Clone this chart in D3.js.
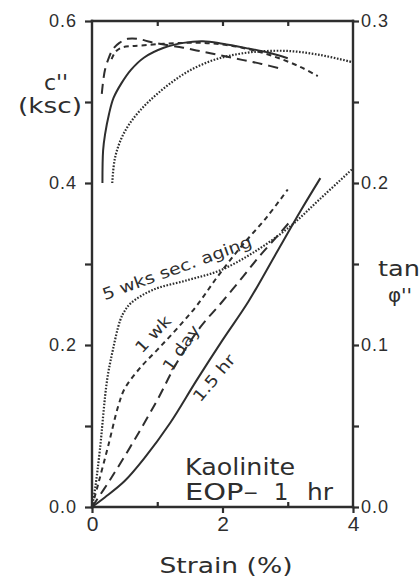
<!DOCTYPE html>
<html>
<head>
<meta charset="utf-8">
<script src="https://cdn.jsdelivr.net/npm/d3@7"></script>
<style>
  body { margin: 0; background: #fff; }
  svg { display: block; font-family: "DejaVu Sans", sans-serif; }
</style>
</head>
<body>
<script>
// plot box
var width = 420;
var height = 579;
var ink = "#2e2e2e";

// c'' curves, left axis : [strain %, c'' (ksc)]
var cHr   = [[.16,.40],[.17,.44],[.20,.46],[.26,.485],[.33,.505],[.45,.523],[.60,.540],[.80,.555],[1.1,.567],[1.4,.573],[1.7,.575],[2.0,.572],[2.4,.566],[2.7,.561],[3.0,.554]];
var cDay  = [[.15,.51],[.17,.525],[.20,.54],[.25,.553],[.32,.565],[.42,.573],[.55,.578],[.70,.578],[.90,.574],[1.1,.571],[1.4,.567],[1.7,.562],[2.0,.557],[2.3,.552],[2.6,.547],[2.9,.541]];
var cWk   = [[.30,.553],[.36,.562],[.45,.567],[.60,.569],[.80,.570],[1.1,.572],[1.4,.573],[1.7,.573],[2.0,.571],[2.3,.567],[2.6,.561],[2.9,.553],[3.2,.543],[3.46,.532]];
var cWks  = [[.31,.40],[.35,.43],[.45,.455],[.6,.476],[.8,.495],[1.0,.510],[1.25,.526],[1.5,.539],[1.8,.550],[2.1,.557],[2.5,.562],[3.0,.563],[3.5,.558],[4.0,.549]];

// tan phi'' curves, right axis : [strain %, tan phi'']
var tHr   = [[0,0],[.2,.006],[.5,.016],[.8,.030],[1.2,.052],[1.6,.078],[2.0,.103],[2.4,.127],[2.8,.155],[3.2,.183],[3.5,.203]];
var tDay  = [[0,0],[.28,.017],[.63,.040],[1.0,.066],[1.3,.089],[1.66,.111],[1.96,.125],[2.27,.140],[2.57,.155],[2.88,.169],[3.03,.176]];
var tWk   = [[0,0],[.1,.015],[.25,.038],[.4,.062],[.5,.073],[.74,.086],[1.0,.097],[1.3,.110],[1.6,.124],[1.92,.142],[2.27,.160],[2.68,.179],[3.0,.196]];
var tWks  = [[0,0],[.05,.012],[.12,.035],[.23,.078],[.32,.097],[.43,.115],[.5,.121],[.6,.126],[.93,.134],[1.46,.140],[1.96,.146],[2.47,.157],[3.03,.173],[3.49,.190],[4.0,.209]];

// ticks
var xMajor = [0, 2, 4];
var xMinor = [1, 3];
var xTop = [1, 2, 3];
var leftTicks = [0, .1, .2, .3, .4, .5, .6];
var rightTicks = [0, .05, .1, .15, .2, .25, .3];

var x = d3.scaleLinear().domain([0, 4]).range([92, 353]);
var yL = d3.scaleLinear().domain([0, 0.6]).range([507, 21]);
var yR = d3.scaleLinear().domain([0, 0.3]).range([507, 21]);

var svg = d3.select("body")
  .append("svg")
    .attr("width", width)
    .attr("height", height);

// curves
var lineL = d3.line()
  .x(function(d) { return x(d[0]); })
  .y(function(d) { return yL(d[1]); })
  .curve(d3.curveCatmullRom.alpha(0.5));

var lineR = d3.line()
  .x(function(d) { return x(d[0]); })
  .y(function(d) { return yR(d[1]); })
  .curve(d3.curveCatmullRom.alpha(0.5));

var dashes = { hr: null, day: "10,6", wk: "5,4", wks: "1.6,1.6" };

var curves = [
  { data: cHr, gen: lineL, dash: dashes.hr },
  { data: cDay, gen: lineL, dash: dashes.day },
  { data: cWk, gen: lineL, dash: dashes.wk },
  { data: cWks, gen: lineL, dash: dashes.wks },
  { data: tHr, gen: lineR, dash: dashes.hr },
  { data: tDay, gen: lineR, dash: dashes.day },
  { data: tWk, gen: lineR, dash: dashes.wk },
  { data: tWks, gen: lineR, dash: dashes.wks }
];

svg.selectAll(".curve")
  .data(curves)
  .enter()
  .append("path")
    .classed("curve", true)
    .attr("d", function(d) { return d.gen(d.data); })
    .attr("fill", "none")
    .attr("stroke", ink)
    .attr("stroke-width", function(d) { return d.dash === dashes.wks ? 2.2 : 2; })
    .attr("stroke-dasharray", function(d) { return d.dash; });

// axes (ticks + labels)
var styleAxis = function(g) {
  g.select(".domain").remove();
  g.selectAll(".tick line").attr("stroke", ink).attr("stroke-width", 2.2);
  g.selectAll(".tick text").attr("fill", ink);
};

svg.append("g")
  .attr("transform", "translate(92,0)")
  .call(d3.axisLeft(yL).tickValues(leftTicks).tickSizeInner(7).tickSizeOuter(0).tickPadding(8)
    .tickFormat(function(d) { return Math.round(d * 10) % 2 === 0 ? d3.format(".1f")(d) : ""; }))
  .call(styleAxis)
  .selectAll("text").style("font-size", "18px").style("letter-spacing", "1px");

svg.append("g")
  .attr("transform", "translate(353,0)")
  .call(d3.axisRight(yR).tickValues(rightTicks).tickSizeInner(6).tickSizeOuter(0).tickPadding(2)
    .tickFormat(function(d) { return Math.round(d * 20) % 2 === 0 ? d3.format(".1f")(d) : ""; }))
  .call(styleAxis)
  .selectAll("text").style("font-size", "18px").style("letter-spacing", "1px");

svg.append("g")
  .attr("transform", "translate(0,507)")
  .call(d3.axisBottom(x).tickValues(xMajor).tickSizeInner(6).tickSizeOuter(0).tickPadding(3).tickFormat(d3.format("d")))
  .call(styleAxis)
  .selectAll("text").style("font-size", "21px");

svg.append("g")
  .attr("transform", "translate(0,507)")
  .call(d3.axisBottom(x).tickValues(xMinor).tickSizeInner(-5).tickSizeOuter(0).tickFormat(""))
  .call(styleAxis);

svg.append("g")
  .attr("transform", "translate(0,21)")
  .call(d3.axisTop(x).tickValues(xTop).tickSizeInner(-5).tickSizeOuter(0).tickFormat(""))
  .call(styleAxis);

// text
var addText = function(str, px, py, size, opts) {
  opts = opts || {};
  var t = svg.append("text")
    .attr("x", px)
    .attr("y", py)
    .attr("fill", ink)
    .style("font-size", size + "px")
    .attr("text-anchor", opts.anchor || "start")
    .text(str);
  if (opts.len) t.attr("textLength", opts.len).attr("lengthAdjust", "spacingAndGlyphs");
  if (opts.rot) t.attr("transform", "rotate(" + opts.rot + "," + px + "," + py + ")").attr("dy", "0.35em");
  return t;
};

addText("c''", 56, 90, 22, { anchor: "middle" });
addText("(ksc)", 50, 113, 22, { anchor: "middle", len: 64 });
addText("tan", 378, 276, 21, { len: 42 });
addText("\u03c6''", 400, 302, 20, { anchor: "middle" });
addText("Strain (%)", 226, 573, 22, { anchor: "middle", len: 133 });

addText("Kaolinite", 185, 475, 23, { len: 110 });
addText("EOP\u2013", 185, 500, 23, { len: 73 });
addText("1", 281, 500, 23, { anchor: "middle" });
addText("hr", 307, 500, 23, { len: 26 });

addText("5 wks sec. aging", 177, 268, 16, { anchor: "middle", rot: -20, len: 158 });
addText("1 wk", 153, 334, 16, { anchor: "middle", rot: -47, len: 44 });
addText("1 day", 181, 348, 16, { anchor: "middle", rot: -55, len: 52 });
addText("1.5 hr", 214, 378, 16, { anchor: "middle", rot: -50, len: 56 });

// frame, drawn last so nothing sits over it
var frame = svg.append("g").attr("class", "frame");
var sides = [
  [[0, 0], [4, 0]],
  [[4, 0], [4, 0.6]],
  [[4, 0.6], [0, 0.6]],
  [[0, 0.6], [0, 0]]
];
frame.selectAll("line")
  .data(sides)
  .enter()
  .append("line")
    .attr("x1", function(d) { return x(d[0][0]); })
    .attr("y1", function(d) { return yL(d[0][1]); })
    .attr("x2", function(d) { return x(d[1][0]); })
    .attr("y2", function(d) { return yL(d[1][1]); })
    .attr("stroke", ink)
    .attr("stroke-width", 2.4)
    .attr("stroke-linecap", "square");
</script>
</body>
</html>
